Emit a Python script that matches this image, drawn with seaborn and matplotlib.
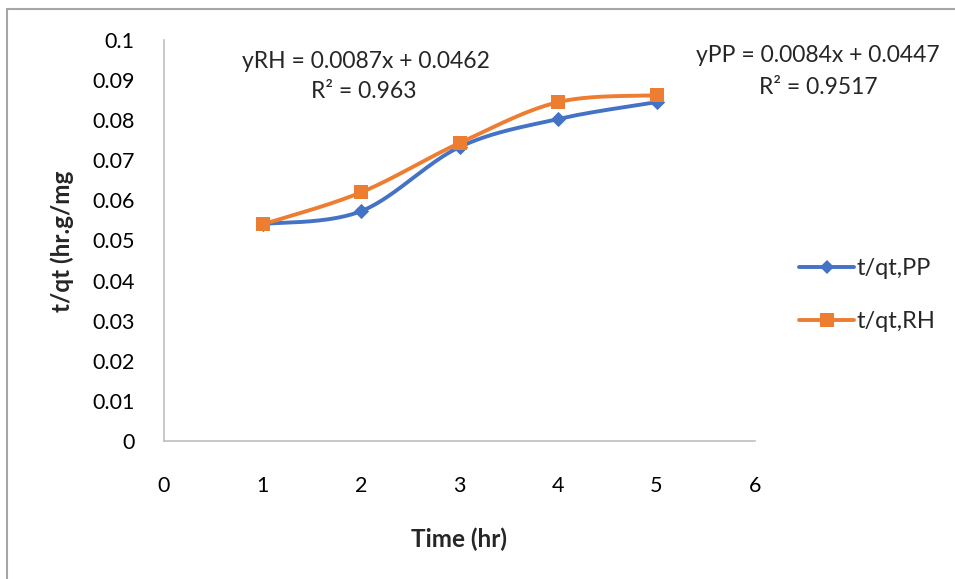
import numpy as np
import pandas as pd
import matplotlib
matplotlib.use("Agg")
import matplotlib.pyplot as plt
from matplotlib.lines import Line2D
from matplotlib.patches import Rectangle
import seaborn as sns

# Data
time_hr = [1, 2, 3, 4, 5]
tqt_pp = [0.0541, 0.0573, 0.0733, 0.0803, 0.0845]
tqt_rh = [0.0540, 0.0620, 0.0743, 0.0845, 0.0862]
x_ticks = [0, 1, 2, 3, 4, 5, 6]
y_ticks = [0, 0.01, 0.02, 0.03, 0.04, 0.05, 0.06, 0.07, 0.08, 0.09, 0.1]
y_tick_labels = ["0", "0.01", "0.02", "0.03", "0.04", "0.05", "0.06", "0.07", "0.08", "0.09", "0.1"]
eq_rh = ["yRH = 0.0087x + 0.0462", "R² = 0.963"]
eq_pp = ["yPP = 0.0084x + 0.0447", "R² = 0.9517"]

BLUE = "#4472C4"
ORANGE = "#ED7D31"


def smooth(xs, ys, n=40):
    """Cardinal (Catmull-Rom) Bezier smoothing through the given points."""
    p = np.column_stack([xs, ys]).astype(float)
    ext = np.vstack([p[0], p, p[-1]])
    out = []
    t = np.linspace(0, 1, n)[:, None]
    for i in range(1, len(ext) - 2):
        p0, p1, p2, p3 = ext[i - 1], ext[i], ext[i + 1], ext[i + 2]
        c1 = p1 + (p2 - p0) / 6
        c2 = p2 - (p3 - p1) / 6
        seg = ((1 - t) ** 3) * p1 + 3 * ((1 - t) ** 2) * t * c1 + 3 * (1 - t) * t ** 2 * c2 + t ** 3 * p2
        out.append(seg if i == 1 else seg[1:])
    s = np.vstack(out)
    return s[:, 0], s[:, 1]


sns.set_theme(style="white")
plt.rcParams["font.family"] = ["Lato", "DejaVu Sans"]

fig = plt.figure(figsize=(9.55, 5.79), dpi=100)
ax = fig.add_axes([164 / 955, 1 - 441 / 579, (755 - 164) / 955, (441 - 40) / 579])

curves = []
for name, ys in [("t/qt,PP", tqt_pp), ("t/qt,RH", tqt_rh)]:
    sx, sy = smooth(time_hr, ys)
    curves.append(pd.DataFrame({"x": sx, "y": sy, "series": name}))
curve_df = pd.concat(curves, ignore_index=True)
points_df = pd.concat([
    pd.DataFrame({"x": time_hr, "y": tqt_pp, "series": "t/qt,PP"}),
    pd.DataFrame({"x": time_hr, "y": tqt_rh, "series": "t/qt,RH"}),
], ignore_index=True)

palette = {"t/qt,PP": BLUE, "t/qt,RH": ORANGE}
sns.lineplot(data=curve_df, x="x", y="y", hue="series", palette=palette, sort=False,
             estimator=None, units="series", linewidth=2.8, legend=False, ax=ax)
sns.scatterplot(data=points_df[points_df.series == "t/qt,PP"], x="x", y="y", color=BLUE,
                marker="D", s=60, linewidth=0, legend=False, ax=ax, zorder=3)
sns.scatterplot(data=points_df[points_df.series == "t/qt,RH"], x="x", y="y", color=ORANGE,
                marker="s", s=115, linewidth=0, legend=False, ax=ax, zorder=4)

ax.set_xlim(0, 6)
ax.set_ylim(0, 0.1)
ax.set_xticks(x_ticks)
ax.set_xticklabels([str(v) for v in x_ticks])
ax.set_yticks(y_ticks)
ax.set_yticklabels(y_tick_labels)
ax.tick_params(axis="both", length=0, labelsize=15.5, colors="black")
ax.tick_params(axis="x", pad=25)
ax.tick_params(axis="y", pad=21)
for side in ["top", "right"]:
    ax.spines[side].set_visible(False)
for side in ["left", "bottom"]:
    ax.spines[side].set_color("#BFBFBF")
    ax.spines[side].set_linewidth(1.2)

ax.set_xlabel("Time (hr)", fontsize=17.5, fontweight="bold")
ax.set_ylabel("t/qt (hr.g/mg", fontsize=17.5, fontweight="bold")
ax.xaxis.set_label_coords((459 - 164) / (755 - 164), -(539 - 441) / (441 - 40))
ax.yaxis.set_label_coords(-(164 - 62) / (755 - 164), (441 - 241) / (441 - 40))
ax.xaxis.label.set_va("center")
ax.yaxis.label.set_va("center")

# Trendline equations
fig.text(366 / 955, 1 - 61 / 579, eq_rh[0], ha="center", va="center", fontsize=16.5)
fig.text(364 / 955, 1 - 92 / 579, eq_rh[1], ha="center", va="center", fontsize=16.5)
fig.text(818 / 955, 1 - 56 / 579, eq_pp[0], ha="center", va="center", fontsize=16.5)
fig.text(818 / 955, 1 - 87 / 579, eq_pp[1], ha="center", va="center", fontsize=16.5)

handles = [
    Line2D([], [], color=BLUE, lw=2.8, marker="D", markersize=7.5, markeredgewidth=0),
    Line2D([], [], color=ORANGE, lw=2.8, marker="s", markersize=10, markeredgewidth=0),
]
fig.legend(handles, ["t/qt,PP", "t/qt,RH"], loc="center left",
           bbox_to_anchor=(799 / 955, 1 - 295 / 579), frameon=False, fontsize=17,
           handlelength=2.35, handletextpad=0.1, labelspacing=1.35, borderaxespad=0,
           borderpad=0)

# Chart area border
fig.patches.append(Rectangle((7 / 955, -0.05), 1.1, 1 - 9 / 579 + 0.05, transform=fig.transFigure,
                             fill=False, edgecolor="#A6A6A6", linewidth=1.5))

fig.savefig("out.png", dpi=100)
